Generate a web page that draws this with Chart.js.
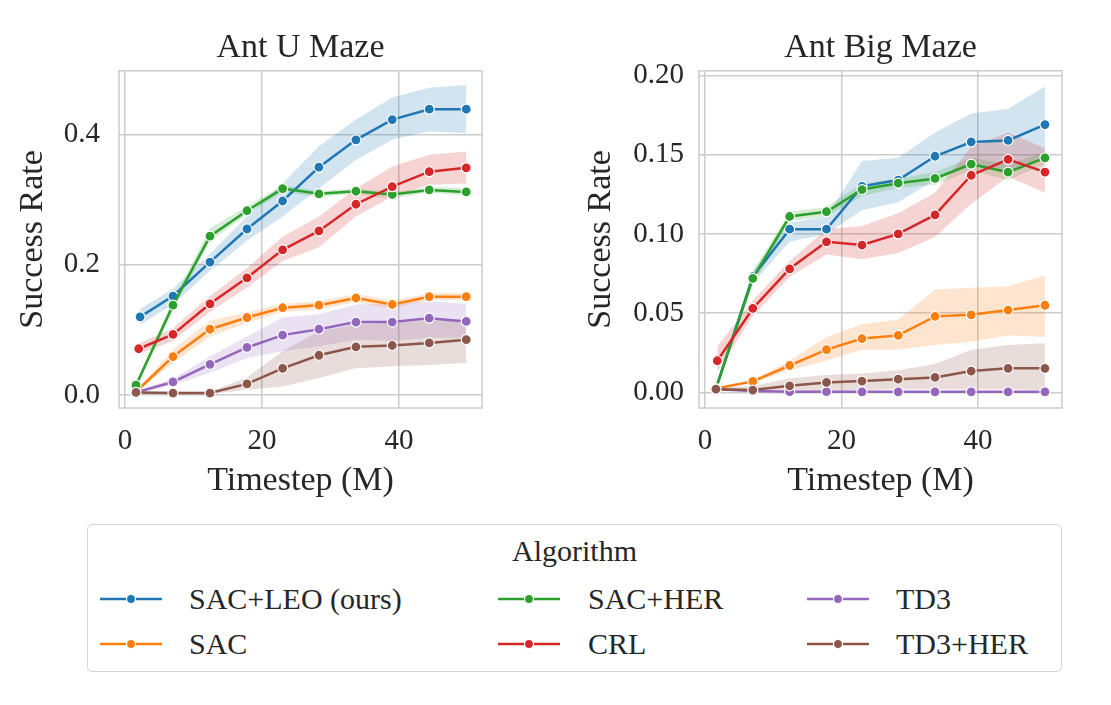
<!DOCTYPE html>
<html>
<head>
<meta charset="utf-8">
<script src="https://cdn.jsdelivr.net/npm/chart.js@4.4.0/dist/chart.umd.min.js"></script>
<style>
  body { margin: 0; background: #fff; width: 1111px; height: 705px; position: relative; overflow: hidden;
         font-family: 'Liberation Serif', serif; color: #262626; }
  #boxL { position: absolute; left: 0; top: 0; }
  #boxR { position: absolute; left: 560px; top: 0; }
  #legend { position: absolute; left: 87px; top: 524px; width: 973px; height: 146px;
            border: 1.5px solid #d4d4d4; border-radius: 5px; }
  .lg-title { position: absolute; left: 0; width: 100%; top: 9px; text-align: center; font-size: 30px; }
  .lg-item { position: absolute; font-size: 30px; line-height: 34px; white-space: nowrap; }
  .lg-item svg { position: absolute; top: 10px; }
</style>
</head>
<body>
<div id="boxL"><canvas id="chartL" width="540" height="508"></canvas></div>
<div id="boxR"><canvas id="chartR" width="551" height="508"></canvas></div>
<div id="legend"><div class="lg-title">Algorithm</div></div>
<script>
const names = ['SAC+LEO (ours)', 'SAC', 'SAC+HER', 'CRL', 'TD3', 'TD3+HER'];
const colors = ['#1f77b4', '#ff7f0e', '#2ca02c', '#d62728', '#9467bd', '#8c564b'];
const bands = ['rgba(31,119,180,0.2)', 'rgba(255,127,14,0.2)', 'rgba(44,160,44,0.2)',
               'rgba(214,39,40,0.2)', 'rgba(148,103,189,0.2)', 'rgba(140,86,75,0.2)'];

// timesteps (M); first evaluation differs a little per algorithm
const steps = [1.6, 7.0, 12.4, 17.8, 23.0, 28.3, 33.7, 39.0, 44.4, 49.8];
const startL = [2.2, 1.6, 1.6, 2.0, 1.6, 1.6];
const startR = [1.6, 1.6, 1.6, 1.8, 1.6, 1.6];

const xTicks = [0, 20, 40];
const yTicksL = [0, 0.2, 0.4];
const yTicksR = [0, 0.05, 0.1, 0.15, 0.2];

// Ant U Maze
const leoL     = [0.120, 0.152, 0.204, 0.255, 0.298, 0.350, 0.392, 0.423, 0.439, 0.439];
const leoLHi   = [0.132, 0.163, 0.217, 0.274, 0.325, 0.382, 0.423, 0.457, 0.472, 0.476];
const leoLLo   = [0.108, 0.139, 0.191, 0.237, 0.274, 0.317, 0.361, 0.392, 0.405, 0.402];
const sacL     = [0.005, 0.059, 0.101, 0.119, 0.134, 0.138, 0.149, 0.139, 0.151, 0.151];
const sacLHi   = [0.006, 0.070, 0.114, 0.127, 0.140, 0.144, 0.155, 0.145, 0.156, 0.157];
const sacLLo   = [0.004, 0.049, 0.090, 0.111, 0.128, 0.131, 0.143, 0.133, 0.146, 0.146];
const herL     = [0.015, 0.138, 0.244, 0.283, 0.317, 0.309, 0.313, 0.308, 0.315, 0.312];
const herLHi   = [0.020, 0.145, 0.256, 0.290, 0.322, 0.313, 0.317, 0.312, 0.319, 0.318];
const herLLo   = [0.010, 0.130, 0.236, 0.277, 0.312, 0.304, 0.309, 0.302, 0.311, 0.306];
const crlL     = [0.071, 0.093, 0.140, 0.180, 0.223, 0.252, 0.293, 0.320, 0.343, 0.349];
const crlLHi   = [0.079, 0.103, 0.152, 0.195, 0.243, 0.274, 0.317, 0.351, 0.369, 0.374];
const crlLLo   = [0.063, 0.083, 0.128, 0.165, 0.206, 0.227, 0.274, 0.305, 0.323, 0.325];
const td3L     = [0.004, 0.020, 0.047, 0.073, 0.092, 0.101, 0.112, 0.112, 0.118, 0.113];
const td3LHi   = [0.006, 0.025, 0.059, 0.090, 0.119, 0.124, 0.139, 0.141, 0.144, 0.140];
const td3LLo   = [0.002, 0.015, 0.034, 0.057, 0.067, 0.075, 0.085, 0.083, 0.088, 0.088];
const td3herL  = [0.004, 0.003, 0.003, 0.017, 0.041, 0.061, 0.074, 0.076, 0.080, 0.085];
const td3herLHi= [0.006, 0.005, 0.005, 0.027, 0.067, 0.098, 0.108, 0.111, 0.114, 0.116];
const td3herLLo= [0.002, 0.001, 0.001, 0.008, 0.013, 0.026, 0.041, 0.044, 0.046, 0.049];

// Ant Big Maze
const leoR     = [0.0025, 0.073, 0.103, 0.103, 0.130, 0.134, 0.149, 0.158, 0.159, 0.169];
const leoRHi   = [0.004, 0.077, 0.107, 0.111, 0.146, 0.148, 0.164, 0.176, 0.179, 0.193];
const leoRLo   = [0.001, 0.069, 0.095, 0.100, 0.115, 0.120, 0.134, 0.143, 0.140, 0.147];
const sacR     = [0.0025, 0.007, 0.017, 0.027, 0.034, 0.036, 0.048, 0.049, 0.052, 0.055];
const sacRHi   = [0.003, 0.008, 0.020, 0.035, 0.043, 0.046, 0.065, 0.066, 0.067, 0.074];
const sacRLo   = [0.002, 0.006, 0.014, 0.020, 0.027, 0.027, 0.030, 0.032, 0.036, 0.035];
const herR     = [0.0025, 0.072, 0.111, 0.114, 0.128, 0.132, 0.135, 0.144, 0.139, 0.148];
const herRHi   = [0.004, 0.076, 0.114, 0.117, 0.132, 0.135, 0.139, 0.148, 0.144, 0.152];
const herRLo   = [0.001, 0.068, 0.108, 0.111, 0.124, 0.129, 0.131, 0.140, 0.134, 0.144];
const crlR     = [0.020, 0.053, 0.078, 0.095, 0.093, 0.100, 0.112, 0.137, 0.147, 0.139];
const crlRHi   = [0.029, 0.058, 0.083, 0.103, 0.105, 0.113, 0.126, 0.155, 0.164, 0.154];
const crlRLo   = [0.013, 0.048, 0.073, 0.087, 0.084, 0.088, 0.098, 0.119, 0.136, 0.126];
const td3R     = [0.002, 0.001, 0.0005, 0.0005, 0.0004, 0.0004, 0.0004, 0.0004, 0.0004, 0.0004];
const td3RHi   = [0.0025, 0.0013, 0.0008, 0.0008, 0.0007, 0.0007, 0.0007, 0.0007, 0.0007, 0.0007];
const td3RLo   = [0.0015, 0.0007, 0.0002, 0.0002, 0.0001, 0.0001, 0.0001, 0.0001, 0.0001, 0.0001];
const td3herR  = [0.0021, 0.0015, 0.0042, 0.0063, 0.0072, 0.0084, 0.0095, 0.0135, 0.0152, 0.0152];
const td3herRHi= [0.003, 0.004, 0.009, 0.011, 0.012, 0.014, 0.018, 0.027, 0.030, 0.031];
const td3herRLo= [0.0015, 0.0005, 0.001, 0.001, 0.0015, 0.002, 0.002, 0.002, 0.002, 0.0015];

const TEXT = '#262626';
const GRID = '#cccccc';
Chart.defaults.font.family = "'Liberation Serif', serif";
Chart.defaults.color = TEXT;

const frame = {
  id: 'frame',
  beforeDatasetsDraw(chart) {
    const a = chart.chartArea, ctx = chart.ctx;
    ctx.save();
    ctx.strokeStyle = GRID;
    ctx.lineWidth = 1.5;
    ctx.strokeRect(a.left, a.top, a.right - a.left, a.bottom - a.top);
    ctx.restore();
  }
};

function buildSets(mean, hi, lo, starts) {
  const sets = [];
  mean.forEach((m, i) => {
    const xs = steps.map((v, k) => k === 0 ? starts[i] : v);
    const pts = arr => arr.map((y, k) => ({ x: xs[k], y: y }));
    const order = 10 - i;
    sets.push({ data: pts(hi[i]), pointRadius: 0, borderWidth: 0, fill: false, order: order });
    sets.push({ data: pts(lo[i]), pointRadius: 0, borderWidth: 0, fill: '-1',
                backgroundColor: bands[i], order: order });
    sets.push({ data: pts(m), borderColor: colors[i], borderWidth: 2.5, fill: false,
                pointRadius: 5, pointBackgroundColor: colors[i], pointBorderColor: '#fff',
                pointBorderWidth: 1.2, order: order });
  });
  return sets;
}

function makeChart(id, title, sets, xr, yr, yTicks, yDigits, yWidth, yTitlePad, yTickPad, padRight) {
  return new Chart(document.getElementById(id), {
    type: 'line',
    data: { datasets: sets },
    plugins: [frame],
    options: {
      responsive: false,
      animation: false,
      layout: { padding: { left: 0, right: padRight, top: 0, bottom: 0 } },
      plugins: {
        legend: { display: false },
        tooltip: { enabled: false },
        filler: { drawTime: 'beforeDatasetsDraw' },
        title: { display: true, text: title, color: TEXT, fullSize: false,
                 font: { size: 34, weight: 'normal' }, padding: { top: 28, bottom: 2 } }
      },
      scales: {
        x: {
          type: 'linear', min: xr[0], max: xr[1],
          afterBuildTicks: s => { s.ticks = xTicks.map(v => ({ value: v })); },
          afterFit: s => { s.height = 100; },
          grid: { color: GRID, lineWidth: 1.5, drawTicks: false },
          border: { display: false },
          ticks: { padding: 16, font: { size: 29 }, color: TEXT, callback: v => String(v) },
          title: { display: true, text: 'Timestep (M)', color: TEXT, font: { size: 34 },
                   padding: { top: 0, bottom: 7 } }
        },
        y: {
          type: 'linear', min: yr[0], max: yr[1],
          afterBuildTicks: s => { s.ticks = yTicks.map(v => ({ value: v })); },
          afterFit: s => { s.width = yWidth; },
          grid: { color: GRID, lineWidth: 1.5, drawTicks: false },
          border: { display: false },
          ticks: { padding: yTickPad, font: { size: 29 }, color: TEXT, callback: v => v.toFixed(yDigits) },
          title: { display: true, text: 'Success Rate', color: TEXT, font: { size: 34 },
                   padding: { top: yTitlePad, bottom: 0 } }
        }
      }
    }
  });
}

makeChart('chartL', 'Ant U Maze',
  buildSets([leoL, sacL, herL, crlL, td3L, td3herL],
            [leoLHi, sacLHi, herLHi, crlLHi, td3LHi, td3herLHi],
            [leoLLo, sacLLo, herLLo, crlLLo, td3LLo, td3herLLo], startL),
  [-0.88, 52.1], [-0.020, 0.498], yTicksL, 1, 119, 13, 19, 58);

makeChart('chartR', 'Ant Big Maze',
  buildSets([leoR, sacR, herR, crlR, td3R, td3herR],
            [leoRHi, sacRHi, herRHi, crlRHi, td3RHi, td3herRHi],
            [leoRLo, sacRLo, herRLo, crlRLo, td3RLo, td3herRLo], startR),
  [-0.88, 52.3], [-0.0098, 0.2029], yTicksR, 2, 139, 21, 15, 49);

// legend: three columns, filled column by column
const lgHandleX = [12, 410, 719];
const lgTextX = [101, 500, 808];
const lgRowY = [57, 102];
const legend = document.getElementById('legend');
names.forEach((n, i) => {
  const col = Math.floor(i / 2), row = i % 2;
  const item = document.createElement('div');
  item.className = 'lg-item';
  item.style.left = lgHandleX[col] + 'px';
  item.style.top = lgRowY[row] + 'px';
  const w = 62;
  item.innerHTML =
    '<svg width="' + w + '" height="14" style="left:0">' +
    '<line x1="0" y1="7" x2="' + w + '" y2="7" stroke="' + colors[i] + '" stroke-width="2.5"/>' +
    '<circle cx="' + (w / 2) + '" cy="7" r="4.5" fill="' + colors[i] + '" stroke="#fff" stroke-width="1.2"/></svg>' +
    '<span style="position:absolute;left:' + (lgTextX[col] - lgHandleX[col]) + 'px;top:0">' + n + '</span>';
  legend.appendChild(item);
});
</script>
</body>
</html>
